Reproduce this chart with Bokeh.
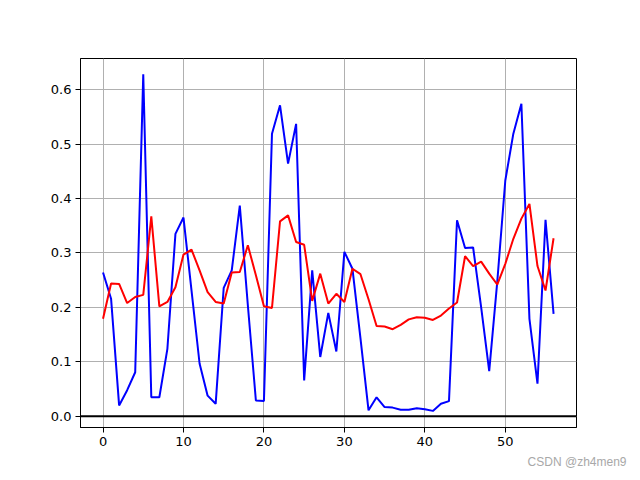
from bokeh.plotting import figure
from bokeh.models import FixedTicker, PrintfTickFormatter, Span, Title, Range1d
from bokeh.embed import file_html
from bokeh.resources import INLINE

steps = list(range(57))
blue_values = [0.264, 0.216, 0.020, 0.048, 0.081, 0.628, 0.035, 0.035, 0.124, 0.335,
               0.365, 0.231, 0.097, 0.038, 0.023, 0.236, 0.268, 0.387, 0.204, 0.029,
               0.028, 0.519, 0.571, 0.464, 0.537, 0.066, 0.268, 0.109, 0.190, 0.119,
               0.302, 0.271, 0.143, 0.011, 0.035, 0.017, 0.016, 0.012, 0.012, 0.015,
               0.013, 0.010, 0.023, 0.028, 0.360, 0.309, 0.310, 0.200, 0.083, 0.247,
               0.433, 0.519, 0.574, 0.179, 0.060, 0.361, 0.188]
red_values = [0.179, 0.244, 0.243, 0.208, 0.219, 0.223, 0.367, 0.202, 0.210, 0.237,
              0.297, 0.306, 0.268, 0.228, 0.210, 0.207, 0.264, 0.265, 0.314, 0.259,
              0.202, 0.199, 0.358, 0.369, 0.320, 0.315, 0.212, 0.262, 0.207, 0.225,
              0.210, 0.271, 0.261, 0.215, 0.166, 0.165, 0.160, 0.168, 0.178, 0.182,
              0.181, 0.177, 0.185, 0.198, 0.209, 0.294, 0.276, 0.284, 0.262, 0.242,
              0.280, 0.326, 0.363, 0.390, 0.276, 0.231, 0.327]
x_ticks = [0, 10, 20, 30, 40, 50]
y_ticks = [0.0, 0.1, 0.2, 0.3, 0.4, 0.5, 0.6]
baseline = 0.0
watermark = "CSDN @zh4men9"

p = figure(width=632, height=472, output_backend="svg", toolbar_location=None,
           x_range=Range1d(-2.8, 58.85), y_range=Range1d(-0.0205, 0.657),
           min_border_left=80, min_border_right=56, min_border_top=58, min_border_bottom=45)

p.line(steps, blue_values, line_color="blue", line_width=2)
p.line(steps, red_values, line_color="red", line_width=2)
p.add_layout(Span(location=baseline, dimension="width", line_color="black", line_width=2))

for ax in (p.xaxis[0], p.yaxis[0]):
    ax.axis_line_color = "black"
    ax.major_tick_line_color = "black"
    ax.major_tick_out = 5
    ax.major_tick_in = 0
    ax.minor_tick_line_color = None
    ax.major_label_text_font = "DejaVu Sans"
    ax.major_label_text_font_size = "13px"
    ax.major_label_text_color = "black"
    ax.major_label_standoff = 4

p.xaxis[0].ticker = FixedTicker(ticks=x_ticks)
p.yaxis[0].ticker = FixedTicker(ticks=y_ticks)
p.yaxis[0].formatter = PrintfTickFormatter(format="%.1f")

p.xgrid[0].ticker = FixedTicker(ticks=x_ticks)
p.ygrid[0].ticker = FixedTicker(ticks=y_ticks)
for g in (p.xgrid[0], p.ygrid[0]):
    g.grid_line_color = "#b0b0b0"
    g.grid_line_width = 1
    g.grid_line_alpha = 1

p.outline_line_color = "black"
p.outline_line_width = 1
p.outline_line_alpha = 1
p.background_fill_color = "white"
p.border_fill_color = "white"

p.add_layout(Title(text=watermark, align="right", offset=-50, standoff=8,
                   text_color="#a8a8a8", text_font="Liberation Sans",
                   text_font_size="12px", text_font_style="normal"), "below")

open("out.html", "w").write(file_html(p, INLINE))
